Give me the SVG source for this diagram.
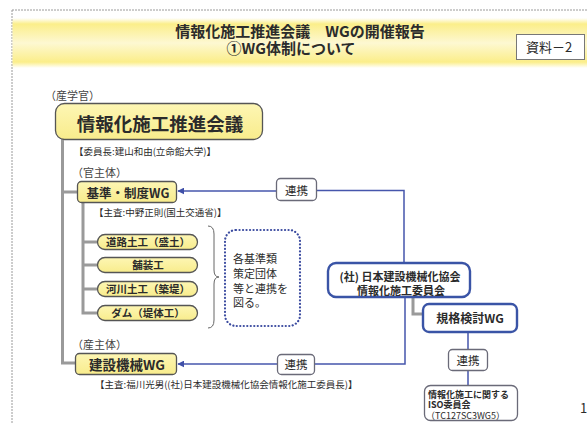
<svg xmlns="http://www.w3.org/2000/svg" width="587" height="423" viewBox="0 0 587 423">
<defs>
<linearGradient id="band" x1="0" y1="0" x2="0" y2="1">
<stop offset="0" stop-color="#fbee8a" stop-opacity="0"/>
<stop offset="0.12" stop-color="#fbee8a"/>
<stop offset="0.5" stop-color="#fdf8d2"/>
<stop offset="0.88" stop-color="#fbee8a"/>
<stop offset="1" stop-color="#fbee8a" stop-opacity="0"/>
</linearGradient>
<linearGradient id="yel" x1="0" y1="0" x2="0" y2="1">
<stop offset="0" stop-color="#fdf6b4"/>
<stop offset="1" stop-color="#f8ec8c"/>
</linearGradient>
<marker id="arr" viewBox="0 0 10 10" refX="9" refY="5" markerWidth="7" markerHeight="7" orient="auto" markerUnits="userSpaceOnUse">
<path d="M10,5 L0,0 L0,10 Z" fill="#3f4fa8"/>
</marker>
<style>
text{font-family:"Noto Sans CJK JP","Noto Sans",sans-serif;fill:#2b2b2b}
.b{font-weight:bold}
.mid{text-anchor:middle}
.ybox{fill:url(#yel);stroke:#555;stroke-width:1.3}
.bbox{fill:#fff;stroke:#3a54a6;stroke-width:2.4}
.gbox{fill:#fff;stroke:#6a6a78;stroke-width:1.3}
.spine{fill:none;stroke:#9a9a9a;stroke-width:3}
.blue{fill:none;stroke:#4656ac;stroke-width:1.5}
.lbl{font-size:11.5px}
.note{font-size:9.5px}
.paren{font-size:11px;fill:#444}
</style>
</defs>

<g id="frame">
<path d="M12,10 H587 M12,10 V423" fill="none" stroke="#9a9a9a" stroke-width="1" stroke-dasharray="2 1"/>
<rect x="12.5" y="18" width="575" height="50" fill="url(#band)"/>
<text class="b mid" font-size="15"><tspan x="300" y="37">情報化施工推進会議　WGの開催報告</tspan><tspan x="291" y="54">①WG体制について</tspan></text>
</g>

<g id="doc-label">
<rect x="516.5" y="34.5" width="68" height="25" fill="#fff" stroke="#777" stroke-width="1"/>
<text x="526" y="52" font-size="13" fill="#444">資料－2</text>
</g>

<g id="connectors">
<path class="spine" d="M62.5,139 V363 H75 M62.5,192 H77"/>
<path class="spine" d="M83,202 V313 H97 M83,242 H97 M83,265 H97 M83,289 H97"/>
<path class="spine" d="M413,297 V314 H423"/>
<path class="blue" d="M276,191 H178" marker-end="url(#arr)"/>
<path class="blue" d="M316,190.5 H404 V263"/>
<path class="blue" d="M277,364 H178" marker-end="url(#arr)"/>
<path class="blue" d="M315,364 H405 V297"/>
<path class="blue" d="M468,332 V349 M468,371 V385"/>
<path d="M208,226 Q214,226 214,234 L214,270 Q214,277 219,277 Q214,277 214,284 L214,320 Q214,328 208,328" fill="none" stroke="#666" stroke-width="1"/>
</g>

<g id="council">
<text class="paren" x="45" y="100">（産学官）</text>
<rect class="ybox" x="55.5" y="103.5" width="207" height="36" rx="9"/>
<text class="b mid" x="160" y="131" font-size="18.5" fill="#333">情報化施工推進会議</text>
<text class="note" x="74" y="155">【委員長:建山和由(立命館大学)】</text>
</g>

<g id="wg-standards">
<text class="paren" x="72" y="177">（官主体）</text>
<rect class="ybox" x="77.5" y="181.5" width="99" height="21" rx="4"/>
<text class="b mid" x="128" y="198" font-size="12.5">基準・制度WG</text>
<text class="note" x="94" y="216">【主査:中野正則(国土交通省)】</text>
</g>

<g id="pill-road">
<rect class="ybox" x="97.5" y="234.5" width="100" height="15" rx="7.5"/>
<text class="b mid" x="148" y="246" font-size="10.5">道路土工（盛土）</text>
</g>
<g id="pill-pave">
<rect class="ybox" x="97.5" y="257.5" width="100" height="15" rx="7.5"/>
<text class="b mid" x="148" y="269" font-size="10.5">舗装工</text>
</g>
<g id="pill-river">
<rect class="ybox" x="97.5" y="281.5" width="100" height="15" rx="7.5"/>
<text class="b mid" x="148" y="293" font-size="10.5">河川土工（築堤）</text>
</g>
<g id="pill-dam">
<rect class="ybox" x="97.5" y="305.5" width="100" height="15" rx="7.5"/>
<text class="b mid" x="148" y="317" font-size="10.5">ダム（堤体工）</text>
</g>

<g id="coop-note">
<rect x="225" y="230" width="75" height="96" rx="11" fill="#fff" stroke="#3c4ca0" stroke-width="2.2" stroke-dasharray="0.1 3.4" stroke-linecap="round"/>
<text font-size="11"><tspan x="233" y="263">各基準類</tspan><tspan x="233" y="278">策定団体</tspan><tspan x="233" y="293">等と連携を</tspan><tspan x="233" y="307">図る。</tspan></text>
</g>

<g id="link-top">
<rect class="gbox" x="276.5" y="178.5" width="40" height="22" rx="4"/>
<text class="mid lbl" x="296.5" y="194.5">連携</text>
</g>

<g id="jcma">
<rect class="bbox" x="328" y="263" width="142" height="34" rx="8"/>
<text class="b mid" font-size="11"><tspan x="400" y="281">(社) 日本建設機械化協会</tspan><tspan x="401" y="294.5">情報化施工委員会</tspan></text>
</g>

<g id="wg-machinery">
<text class="paren" x="72" y="349">（産主体）</text>
<rect class="ybox" x="75.5" y="353.5" width="101" height="21" rx="4"/>
<text class="b mid" x="127" y="370" font-size="13.5">建設機械WG</text>
<text class="note" x="95" y="388">【主査:福川光男((社)日本建設機械化協会情報化施工委員長)】</text>
</g>

<g id="link-bottom">
<rect class="gbox" x="277.5" y="354.5" width="37" height="20" rx="4"/>
<text class="mid lbl" x="296" y="369">連携</text>
</g>

<g id="wg-spec">
<rect class="bbox" x="423" y="304" width="94" height="28" rx="6"/>
<text class="b mid" x="470" y="322.5" font-size="12">規格検討WG</text>
</g>

<g id="link-iso">
<rect class="gbox" x="448.5" y="349.5" width="39" height="21" rx="4"/>
<text class="mid lbl" x="468" y="364.5">連携</text>
</g>

<g id="iso">
<rect class="gbox" x="424.5" y="385.5" width="93" height="35" rx="6"/>
<text font-size="9"><tspan class="b" x="428" y="397.5">情報化施工に関する</tspan><tspan class="b" x="428" y="408">ISO委員会</tspan><tspan x="426" y="418.5">（TC127SC3WG5）</tspan></text>
</g>

<g id="page">
<text x="580" y="413" font-size="13" fill="#333">1</text>
</g>
</svg>
